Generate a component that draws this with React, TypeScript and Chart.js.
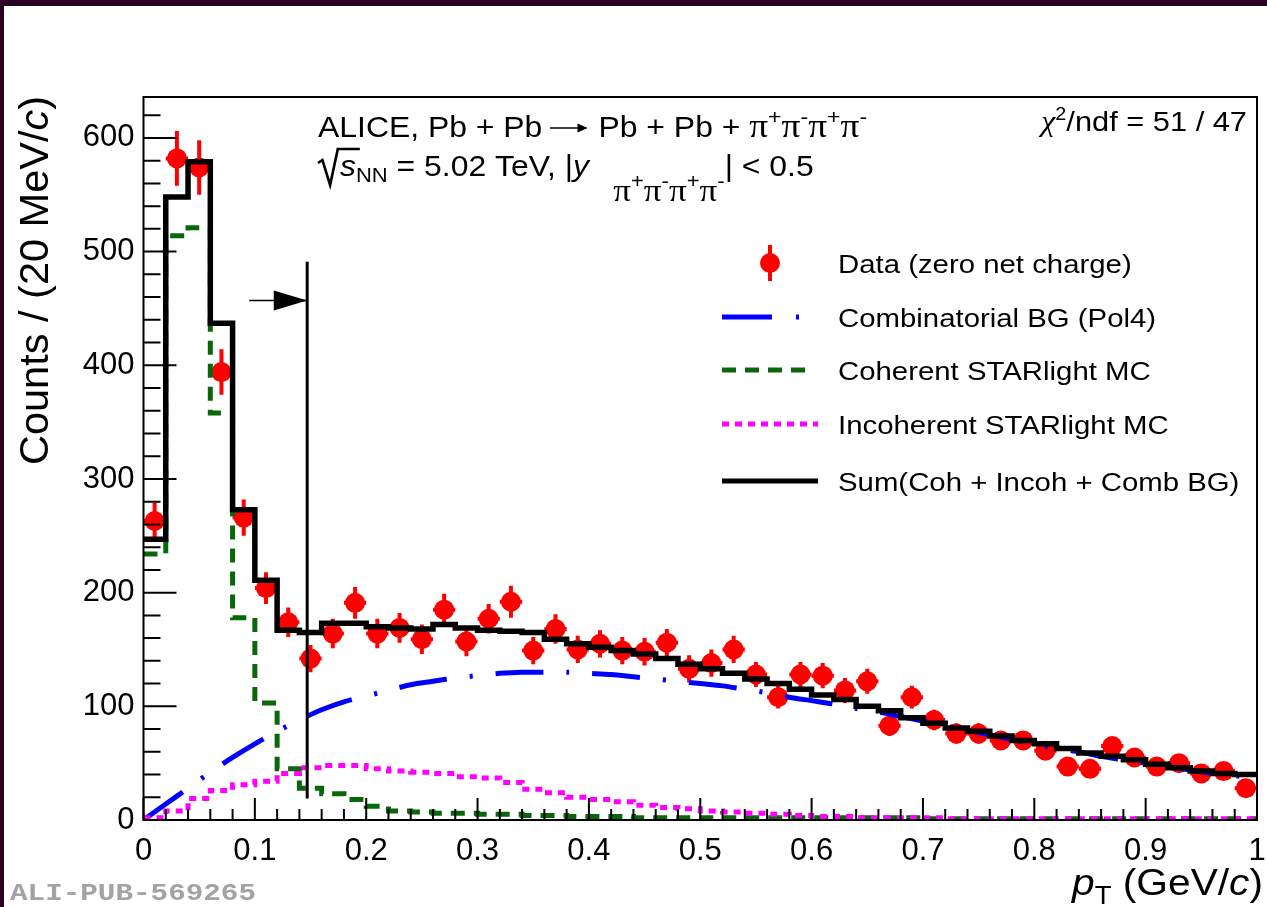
import { useEffect, useRef } from "react";
import { Chart, registerables } from "chart.js";

Chart.register(...registerables);

// ---------------- data ----------------
const binEdges = [0.0, 0.02, 0.04, 0.06, 0.08, 0.1, 0.12, 0.14, 0.16, 0.18, 0.2, 0.22, 0.24, 0.26, 0.28, 0.3, 0.32, 0.34, 0.36, 0.38, 0.4, 0.42, 0.44, 0.46, 0.48, 0.5, 0.52, 0.54, 0.56, 0.58, 0.6, 0.62, 0.64, 0.66, 0.68, 0.7, 0.72, 0.74, 0.76, 0.78, 0.8, 0.82, 0.84, 0.86, 0.88, 0.9, 0.92, 0.94, 0.96, 0.98, 1.0];

const dataCounts = [263, 582, 574, 394, 266, 204, 174, 142, 164, 191, 164, 169, 159, 185, 157, 177, 192, 149, 168, 150, 155, 149, 148, 156, 133, 138, 150, 128, 108, 128, 127, 114, 122, 83, 108, 88, 76, 76, 70, 70, 61, 47, 45, 65, 55, 47, 50, 41, 43, 28];
const dataErrors = [16, 24, 24, 20, 16, 14, 13, 12, 13, 14, 13, 13, 13, 14, 13, 13, 14, 12, 13, 12, 12, 12, 12, 12, 12, 12, 12, 11, 10, 11, 11, 11, 11, 9, 10, 9, 9, 9, 8, 8, 8, 7, 7, 8, 7, 7, 7, 6, 7, 5];

const sumCounts = [247, 548, 579, 437, 273, 211, 167, 165, 173, 173, 170, 169, 168, 172, 169, 167, 166, 165, 159, 155, 152, 149, 146, 142, 137, 133, 129, 124, 120, 115, 110, 106, 100, 96, 90, 85, 81, 78, 74, 70, 67, 63, 59, 56, 53, 49, 46, 43, 41, 40];
const cohCounts = [234, 514, 521, 358, 178, 103, 45, 28, 23, 18, 12, 8, 7, 6, 6, 5, 5, 4, 4, 3, 3, 3, 2, 2, 2, 2, 2, 2, 2, 2, 2, 2, 2, 2, 2, 1, 1, 1, 1, 1, 1, 1, 1, 1, 1, 1, 1, 1, 1, 1];
const incohCounts = [2, 8, 19, 26, 31, 34, 41, 46, 48, 48, 45, 43, 42, 41, 38, 37, 33, 27, 24, 20, 18, 16, 13, 11, 10, 8, 7, 6, 5, 4, 3, 3, 2, 2, 2, 2, 1, 1, 1, 1, 1, 1, 1, 1, 1, 1, 1, 1, 1, 1];

const combPt = binEdges;
const combCounts = [0, 14, 28, 42, 55, 67, 78, 88, 97, 104, 109, 114, 119, 122, 125, 127, 129, 130, 130, 130, 129, 128, 126, 124, 122, 120, 118, 115, 112, 108, 105, 102, 98, 95, 91, 87, 83, 79, 75, 71, 67, 63, 60, 56, 53, 50, 47, 44, 41, 39, 37];

const xTickLabels = ["0", "0.1", "0.2", "0.3", "0.4", "0.5", "0.6", "0.7", "0.8", "0.9", "1"];
const yTickLabels = ["0", "100", "200", "300", "400", "500", "600"];

const legendLabels = [
  "Data (zero net charge)",
  "Combinatorial BG (Pol4)",
  "Coherent STARlight MC",
  "Incoherent STARlight MC",
  "Sum(Coh + Incoh + Comb BG)",
];

const cutPt = 0.147;
const cutTop = 491;
const cutBottom = 19;
const arrowY = 457;
const arrowFrom = 0.095;
const arrowHeadFrom = 0.117;

// ---------------- style ----------------
const SANS = '"Liberation Sans", Arial, Helvetica, sans-serif';
const SERIF = '"Liberation Serif", "Times New Roman", serif';
const MONO = '"Liberation Mono", "DejaVu Sans Mono", monospace';
const RED = "#ff0000";
const BLUE = "#0000ff";
const GREEN = "#0a660a";
const MAGENTA = "#ff00ff";
const BLACK = "#000000";
const FRAME_DARK = "#2b0020";
const SX = 1.1;

const DASH_COMB = [48, 23, 3, 23];
const DASH_COH = [14, 9];
const DASH_INCOH = [7, 6];

type Seg = {
  t?: string;
  size: number;
  italic?: boolean;
  dy?: number;
  fam?: string;
  w?: number;
  custom?: (ctx: CanvasRenderingContext2D, x: number, w: number) => void;
};

function setFont(ctx: CanvasRenderingContext2D, s: Seg) {
  ctx.font = `${s.italic ? "italic " : ""}${s.size}px ${s.fam || SANS}`;
}
function segsWidth(ctx: CanvasRenderingContext2D, segs: Seg[]) {
  let w = 0;
  for (const s of segs) {
    if (s.custom || s.t === undefined) w += s.w || 0;
    else {
      setFont(ctx, s);
      w += ctx.measureText(s.t).width;
    }
  }
  return w;
}
function drawSegs(
  ctx: CanvasRenderingContext2D,
  x: number,
  y: number,
  segs: Seg[],
  sx = 1,
  align: "left" | "right" = "left"
) {
  ctx.save();
  const w = segsWidth(ctx, segs);
  ctx.translate(align === "right" ? x - w * sx : x, y);
  ctx.scale(sx, 1);
  ctx.textAlign = "left";
  ctx.textBaseline = "alphabetic";
  ctx.fillStyle = BLACK;
  ctx.strokeStyle = BLACK;
  let cx = 0;
  for (const s of segs) {
    if (s.custom || s.t === undefined) {
      if (s.custom) s.custom(ctx, cx, s.w || 0);
      cx += s.w || 0;
      continue;
    }
    setFont(ctx, s);
    ctx.fillText(s.t, cx, s.dy || 0);
    cx += ctx.measureText(s.t).width;
  }
  ctx.restore();
}

function histPoints(counts: number[]) {
  const pts: { x: number; y: number }[] = [];
  counts.forEach((c, i) => {
    pts.push({ x: binEdges[i], y: c });
    pts.push({ x: binEdges[i + 1], y: c });
  });
  return pts;
}

const pionSub = (size: number, supSize: number, dy: number, supDy: number): Seg[] => {
  const out: Seg[] = [];
  ["+", "-", "+", "-"].forEach((c) => {
    out.push({ t: "\u03C0", size, fam: SERIF, dy });
    out.push({ t: c, size: supSize, dy: supDy });
  });
  return out;
};

const rootPlugin = {
  id: "rootStyle",
  beforeDraw(chart: any) {
    const { ctx, width, height } = chart;
    ctx.save();
    ctx.fillStyle = "#ffffff";
    ctx.fillRect(0, 0, width, height);
    ctx.restore();
  },
  beforeDatasetsDraw(chart: any) {
    const { ctx } = chart;
    const x = chart.scales.x;
    const y = chart.scales.y;
    ctx.save();
    ctx.strokeStyle = RED;
    ctx.lineWidth = 4;
    ctx.lineCap = "butt";
    dataCounts.forEach((c, i) => {
      const xc = (binEdges[i] + binEdges[i + 1]) / 2;
      const px = x.getPixelForValue(xc);
      const py = y.getPixelForValue(c);
      ctx.beginPath();
      ctx.moveTo(px, y.getPixelForValue(c - dataErrors[i]));
      ctx.lineTo(px, y.getPixelForValue(c + dataErrors[i]));
      ctx.moveTo(x.getPixelForValue(binEdges[i]), py);
      ctx.lineTo(x.getPixelForValue(binEdges[i + 1]), py);
      ctx.stroke();
    });
    ctx.restore();
  },
  afterDatasetsDraw(chart: any) {
    const { ctx, chartArea } = chart;
    const x = chart.scales.x;
    const y = chart.scales.y;
    const { left, right, top, bottom } = chartArea;
    ctx.save();
    // cut line and arrow
    ctx.strokeStyle = BLACK;
    ctx.fillStyle = BLACK;
    ctx.lineWidth = 3;
    const cx = x.getPixelForValue(cutPt);
    ctx.beginPath();
    ctx.moveTo(cx, y.getPixelForValue(cutTop));
    ctx.lineTo(cx, y.getPixelForValue(cutBottom));
    ctx.stroke();
    const ay = y.getPixelForValue(arrowY);
    ctx.lineWidth = 1.5;
    ctx.beginPath();
    ctx.moveTo(x.getPixelForValue(arrowFrom), ay);
    ctx.lineTo(cx, ay);
    ctx.stroke();
    const hx = x.getPixelForValue(arrowHeadFrom);
    ctx.beginPath();
    ctx.moveTo(hx, ay - 10);
    ctx.lineTo(cx, ay);
    ctx.lineTo(hx, ay + 10);
    ctx.closePath();
    ctx.fill();

    // frame
    ctx.lineWidth = 2;
    ctx.strokeRect(left, top, right - left, bottom - top);
    // inward ticks
    ctx.beginPath();
    for (let v = 0; v <= y.max; v += 20) {
      const py = y.getPixelForValue(v);
      const len = v % 100 === 0 ? 33 : 17;
      ctx.moveTo(left, py);
      ctx.lineTo(left + len, py);
    }
    for (let k = 0; k <= 50; k++) {
      const px = x.getPixelForValue(k * 0.02);
      const len = k % 5 === 0 ? 22 : 11;
      ctx.moveTo(px, bottom);
      ctx.lineTo(px, bottom - len);
    }
    ctx.stroke();
    ctx.restore();
  },
  afterDraw(chart: any) {
    const { ctx } = chart;
    ctx.save();

    // ---- legend ----
    const lx0 = 722;
    const textX = 838;
    const rows = [263, 317, 370, 424, 481];
    ctx.strokeStyle = RED;
    ctx.fillStyle = RED;
    ctx.lineWidth = 4;
    ctx.beginPath();
    ctx.moveTo(770, rows[0] - 18);
    ctx.lineTo(770, rows[0] + 18);
    ctx.stroke();
    ctx.beginPath();
    ctx.arc(770, rows[0], 10, 0, Math.PI * 2);
    ctx.fill();
    ctx.strokeStyle = BLUE;
    ctx.lineWidth = 5;
    ctx.beginPath();
    ctx.moveTo(lx0, rows[1]);
    ctx.lineTo(772, rows[1]);
    ctx.moveTo(796, rows[1]);
    ctx.lineTo(799, rows[1]);
    ctx.stroke();
    ctx.strokeStyle = GREEN;
    ctx.setLineDash(DASH_COH);
    ctx.beginPath();
    ctx.moveTo(lx0, rows[2]);
    ctx.lineTo(808, rows[2]);
    ctx.stroke();
    ctx.strokeStyle = MAGENTA;
    ctx.setLineDash(DASH_INCOH);
    ctx.beginPath();
    ctx.moveTo(lx0, rows[3]);
    ctx.lineTo(818, rows[3]);
    ctx.stroke();
    ctx.setLineDash([]);
    ctx.strokeStyle = BLACK;
    ctx.beginPath();
    ctx.moveTo(lx0, rows[4]);
    ctx.lineTo(818, rows[4]);
    ctx.stroke();
    legendLabels.forEach((t, i) => {
      drawSegs(ctx, textX, rows[i] + 9.5, [{ t, size: 26.7 }], SX);
    });

    // ---- header text ----
    const arrowSeg: Seg = {
      size: 29,
      w: 43,
      custom: (c, x0, w) => {
        c.lineWidth = 1.6;
        c.beginPath();
        c.moveTo(x0 + 7, -9);
        c.lineTo(x0 + w - 3, -9);
        c.stroke();
        c.beginPath();
        c.moveTo(x0 + w - 11, -13.5);
        c.lineTo(x0 + w - 2, -9);
        c.lineTo(x0 + w - 11, -4.5);
        c.closePath();
        c.fill();
      },
    };
    drawSegs(
      ctx,
      318,
      137,
      [
        { t: "ALICE, Pb + Pb", size: 29 },
        arrowSeg,
        { t: " Pb + Pb + ", size: 29 },
        ...pionSub(34, 21, 0, -13),
      ],
      SX
    );
    const radical: Seg = {
      size: 29,
      w: 20,
      custom: (c, x0) => {
        c.lineWidth = 2.4;
        c.beginPath();
        c.moveTo(x0, -13);
        c.lineTo(x0 + 4, -16);
        c.lineTo(x0 + 11, 9);
        c.lineTo(x0 + 18, -27);
        c.lineTo(x0 + 38, -27);
        c.stroke();
      },
    };
    drawSegs(
      ctx,
      318,
      176,
      [
        radical,
        { t: "s", size: 29, italic: true },
        { t: "NN", size: 20, dy: 6 },
        { t: " = 5.02 TeV, |", size: 29 },
        { t: "y", size: 29, italic: true },
        { size: 29, w: 22 },
        ...pionSub(32, 20, 25, 12),
        { t: "| < 0.5", size: 29 },
      ],
      SX
    );
    drawSegs(
      ctx,
      1247,
      131,
      [
        { t: "\u03C7", size: 29, italic: true, fam: SERIF },
        { t: "2", size: 18, dy: -11 },
        { t: "/ndf = 51 / 47", size: 28 },
      ],
      SX,
      "right"
    );

    // ---- axis titles ----
    drawSegs(
      ctx,
      1263,
      895,
      [
        { t: "p", size: 37, italic: true },
        { t: "T", size: 25, dy: 9 },
        { t: " (GeV/", size: 37 },
        { t: "c", size: 37, italic: true },
        { t: ")", size: 37 },
      ],
      SX,
      "right"
    );
    const ySegs: Seg[] = [
      { t: "Counts / (20 MeV/", size: 41.5 },
      { t: "c", size: 41.5, italic: true },
      { t: ")", size: 41.5 },
    ];
    const yw = segsWidth(ctx, ySegs);
    ctx.save();
    ctx.translate(48, 96 + yw);
    ctx.rotate(-Math.PI / 2);
    drawSegs(ctx, 0, 0, ySegs, 1);
    ctx.restore();

    // ---- watermark ----
    ctx.save();
    ctx.translate(10, 900);
    ctx.scale(1.22, 1);
    ctx.font = `bold 24px ${MONO}`;
    ctx.fillStyle = "#a3a3a3";
    ctx.textBaseline = "alphabetic";
    ctx.fillText("ALI-PUB-569265", 0, 0);
    ctx.restore();

    // ---- dark screenshot border ----
    ctx.fillStyle = FRAME_DARK;
    ctx.fillRect(0, 0, chart.width, 6);
    ctx.fillRect(0, 0, 4, chart.height);
    ctx.restore();
  },
};

export default function App() {
  const ref = useRef<HTMLCanvasElement>(null);
  useEffect(() => {
    if (!ref.current) return;
    const dataPoints = dataCounts.map((c, i) => ({
      x: (binEdges[i] + binEdges[i + 1]) / 2,
      y: c,
    }));
    const chart = new Chart(ref.current, {
      type: "line",
      data: {
        datasets: [
          {
            label: legendLabels[4],
            data: histPoints(sumCounts),
            borderColor: BLACK,
            borderWidth: 5.5,
            pointRadius: 0,
            borderJoinStyle: "miter",
            borderCapStyle: "butt",
          },
          {
            label: legendLabels[3],
            data: histPoints(incohCounts),
            borderColor: MAGENTA,
            borderWidth: 5,
            borderDash: DASH_INCOH,
            pointRadius: 0,
            borderJoinStyle: "miter",
            borderCapStyle: "butt",
          },
          {
            label: legendLabels[2],
            data: histPoints(cohCounts),
            borderColor: GREEN,
            borderWidth: 5,
            borderDash: DASH_COH,
            pointRadius: 0,
            borderJoinStyle: "miter",
            borderCapStyle: "butt",
          },
          {
            label: legendLabels[1],
            data: combCounts.map((c, i) => ({ x: combPt[i], y: c })),
            borderColor: BLUE,
            borderWidth: 5,
            borderDash: DASH_COMB,
            pointRadius: 0,
            tension: 0.3,
          },
          {
            label: legendLabels[0],
            data: dataPoints,
            showLine: false,
            pointRadius: 10,
            pointHoverRadius: 10,
            pointBackgroundColor: RED,
            pointBorderColor: RED,
            pointBorderWidth: 0,
          },
        ],
      } as any,
      options: {
        animation: false,
        responsive: false,
        events: [],
        layout: { padding: { left: 0, top: 97, right: 4, bottom: 0 } },
        plugins: { legend: { display: false }, tooltip: { enabled: false } },
        scales: {
          x: {
            type: "linear",
            min: 0,
            max: 1,
            border: { display: false },
            grid: { display: false, drawTicks: false },
            ticks: {
              stepSize: 0.1,
              autoSkip: false,
              maxRotation: 0,
              minRotation: 0,
              padding: 13,
              color: BLACK,
              font: { family: SANS, size: 31 },
              callback: (v: any) => xTickLabels[Math.round(Number(v) * 10)] ?? "",
            },
            afterFit: (s: any) => {
              s.height = 87;
              s.paddingLeft = 0;
              s.paddingRight = 0;
            },
          },
          y: {
            type: "linear",
            min: 0,
            max: 636,
            border: { display: false },
            grid: { display: false, drawTicks: false },
            ticks: {
              stepSize: 100,
              includeBounds: false,
              padding: 9,
              color: BLACK,
              font: { family: SANS, size: 31 },
              callback: (v: any) => yTickLabels[Math.round(Number(v) / 100)] ?? "",
            },
            afterFit: (s: any) => {
              s.width = 143.5;
              s.paddingTop = 0;
              s.paddingBottom = 0;
            },
          },
        },
      } as any,
      plugins: [rootPlugin as any],
    });
    return () => chart.destroy();
  }, []);
  return (
    <div
      style={{
        position: "absolute",
        left: 0,
        top: 0,
        width: 1267,
        height: 907,
        background: "#fff",
      }}
    >
      <canvas
        ref={ref}
        width={1267}
        height={907}
        style={{ display: "block", width: 1267, height: 907 }}
      />
    </div>
  );
}
